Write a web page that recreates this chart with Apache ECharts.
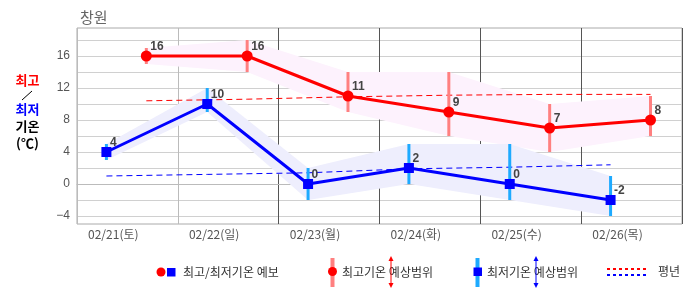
<!DOCTYPE html>
<html>
<head>
<meta charset="utf-8">
<script src="https://cdn.jsdelivr.net/npm/echarts@6/dist/echarts.min.js"></script>
<style>html,body{margin:0;padding:0;background:#fff;}#c{width:686px;height:295px;}</style>
</head>
<body>
<div id="c"></div>
<script>
// ---- data ----
var dayLabels = ['02/21(토)', '02/22(일)', '02/23(월)', '02/24(화)', '02/25(수)', '02/26(목)'];
var minHour = 7;      // time of day of the minimum (hours)
var maxHour = 16.5;   // time of day of the maximum (hours)
var maxTemp = [16, 16, 11, 9, 7, 8];
var maxLow  = [15, 14, 9, 6, 4, 6];
var maxHigh = [17, 18, 14, 14, 10, 11];
var minTemp = [4, 10, 0, 2, 0, -2];
var minLow  = [3, 9, -2, 0, -2, -4];
var minHigh = [5, 12, 2, 5, 5, 1];
var normMax = [10.4, 10.6, 10.9, 11.1, 11.2, 11.2];
var normMin = [1.0, 1.2, 1.4, 1.9, 2.1, 2.4];
var yTickValues = [-4, -2, 0, 2, 4, 6, 8, 10, 12, 14, 16, 18];
var yLabelValues = [-4, 0, 4, 8, 12, 16];

// ---- build ----
function xs(h) { return dayLabels.map(function (_, i) { return i + h / 24; }); }
var xMin = xs(minHour), xMax = xs(maxHour);
function pairs(x, v) { return v.map(function (y, i) { return [x[i], y]; }); }

function bandSeries(xArr, low, high, color) {
  return {
    type: 'custom', silent: true, z: 1,
    data: low.map(function (v, i) { return [xArr[i], v, high[i]]; }),
    renderItem: function (params, api) {
      if (params.dataIndex !== 0) return null;
      var pts = [];
      for (var i = 0; i < xArr.length; i++) pts.push(api.coord([xArr[i], high[i]]));
      for (var j = xArr.length - 1; j >= 0; j--) pts.push(api.coord([xArr[j], low[j]]));
      return { type: 'polygon', shape: { points: pts }, style: { fill: color } };
    }
  };
}

function errSeries(xArr, low, high, color) {
  return {
    type: 'custom', silent: true, z: 4,
    data: low.map(function (v, i) { return [xArr[i], v, high[i]]; }),
    renderItem: function (params, api) {
      var p1 = api.coord([api.value(0), api.value(1)]);
      var p2 = api.coord([api.value(0), api.value(2)]);
      return { type: 'rect', shape: { x: p1[0] - 1.5, y: p2[1], width: 3, height: p1[1] - p2[1] },
               style: { fill: color } };
    }
  };
}

var labelCfg = { show: true, position: 'right', distance: 0, offset: [-1.5, -9],
  fontSize: 12, fontWeight: 'bold', color: '#444', fontFamily: 'Liberation Sans, Arial, sans-serif' };

var series = [
    bandSeries(xMax, maxLow, maxHigh, '#fdf2fd'),
    bandSeries(xMin, minLow, minHigh, '#eeeefd'),
    { type: 'line', data: pairs(xMax, normMax), symbol: 'none', z: 3, silent: true,
      lineStyle: { color: '#ff0000', width: 1, type: [6, 4] } },
    { type: 'line', data: pairs(xMin, normMin), symbol: 'none', z: 3, silent: true,
      lineStyle: { color: '#0000ff', width: 1, type: [6, 4] } },
    errSeries(xMax, maxLow, maxHigh, '#ff8080'),
    errSeries(xMin, minLow, minHigh, '#1eaaff'),
    { type: 'line', data: pairs(xMax, maxTemp), symbol: 'circle', symbolSize: 11, z: 6,
      lineStyle: { color: '#ff0000', width: 3 }, itemStyle: { color: '#ff0000' }, label: labelCfg },
    { type: 'line', data: pairs(xMin, minTemp), symbol: 'rect', symbolSize: 10, z: 6,
      lineStyle: { color: '#0000ff', width: 3 }, itemStyle: { color: '#0000ff' }, label: labelCfg }
];

var txt = { fontFamily: 'Noto Sans CJK KR, sans-serif', fontSize: 12, fill: '#333' };
function T(x, y, s, extra) {
  var st = Object.assign({}, txt, { text: s, x: x, y: y, textVerticalAlign: 'middle' }, extra || {});
  return { type: 'text', style: st, z: 10 };
}
function arrow(x, y1, y2, color) {
  return [
    { type: 'line', shape: { x1: x, y1: y1 + 3, x2: x, y2: y2 - 3 }, style: { stroke: color, lineWidth: 1 }, z: 10 },
    { type: 'polygon', shape: { points: [[x - 2.5, y1 + 5], [x + 2.5, y1 + 5], [x, y1]] }, style: { fill: color }, z: 10 },
    { type: 'polygon', shape: { points: [[x - 2.5, y2 - 5], [x + 2.5, y2 - 5], [x, y2]] }, style: { fill: color }, z: 10 }
  ];
}
var axisName = { fontFamily: 'Noto Sans CJK KR, sans-serif', fontSize: 13, fontWeight: 'bold', textAlign: 'center', textVerticalAlign: 'middle' };

var graphic = [
  T(27.5, 80.5, '최고', Object.assign({}, axisName, { fill: '#ff0000' })),
  { type: 'line', shape: { x1: 22, y1: 100, x2: 32, y2: 91 }, style: { stroke: '#000', lineWidth: 1 }, z: 10 },
  T(27.5, 109, '최저', Object.assign({}, axisName, { fill: '#0000ff' })),
  T(27.5, 126, '기온', Object.assign({}, axisName, { fill: '#000' })),
  T(27.5, 143, '(℃)', Object.assign({}, axisName, { fill: '#000' })),
  // legend
  { type: 'circle', shape: { cx: 161, cy: 272, r: 4.5 }, style: { fill: '#ff0000' }, z: 10 },
  { type: 'rect', shape: { x: 167, y: 268, width: 8.5, height: 8.5 }, style: { fill: '#0000ff' }, z: 10 },
  T(183, 272, '최고/최저기온 예보'),
  { type: 'rect', shape: { x: 330.5, y: 258, width: 4, height: 29 }, style: { fill: '#ff8080' }, z: 10 },
  { type: 'circle', shape: { cx: 332.5, cy: 271.5, r: 4.5 }, style: { fill: '#ff0000' }, z: 11 },
  T(342, 272, '최고기온 예상범위'),
  { type: 'rect', shape: { x: 475.5, y: 258, width: 4, height: 29 }, style: { fill: '#1eaaff' }, z: 10 },
  { type: 'rect', shape: { x: 473.5, y: 267.5, width: 8.5, height: 8.5 }, style: { fill: '#0000ff' }, z: 11 },
  T(487, 272, '최저기온 예상범위'),
  { type: 'line', shape: { x1: 607, y1: 269, x2: 648, y2: 269 }, style: { stroke: '#ff0000', lineWidth: 2, lineDash: [3, 3] }, z: 10 },
  { type: 'line', shape: { x1: 607, y1: 275, x2: 648, y2: 275 }, style: { stroke: '#0000ff', lineWidth: 2, lineDash: [3, 3] }, z: 10 },
  T(658, 271, '평년')
].concat(arrow(391, 256, 288, '#ff0000')).concat(arrow(536, 256, 288, '#0000ff'));

var chart = echarts.init(document.getElementById('c'), null, { renderer: 'canvas' });
chart.setOption({
  animation: false,
  backgroundColor: '#fff',
  title: { text: '창원', left: 75, top: 5,
    textStyle: { fontSize: 15, fontWeight: 'normal', color: '#666', fontFamily: 'Noto Sans CJK KR, sans-serif' } },
  grid: { left: 77, right: 4, top: 28, bottom: 71, show: true, borderColor: '#aaa', borderWidth: 1 },
  xAxis: {
    type: 'value', min: 0, max: 6, interval: 1,
    axisLine: { show: true, lineStyle: { color: '#bbb' } },
    axisTick: { show: false },
    splitLine: { show: true, lineStyle: { color: ['#bbb', '#bbb', '#555', '#555', '#555', '#555', '#555'], width: 1 } },
    axisLabel: {
      customValues: dayLabels.map(function (_, i) { return i + 0.36; }),
      formatter: function (v) { return dayLabels[Math.floor(v)]; },
      color: '#555', fontSize: 12, margin: 4, fontFamily: 'Noto Sans CJK KR, sans-serif'
    }
  },
  yAxis: {
    type: 'value', min: -5, max: 19.5,
    axisLine: { show: false },
    axisTick: { show: false, customValues: yTickValues },
    splitLine: { show: true, lineStyle: { color: '#d0d0d0', width: 1 } },
    axisLabel: {
      customValues: yLabelValues,
      formatter: function (v) { return String(v).replace('-', '\u2212'); },
      color: '#555', fontSize: 12, margin: 7, fontFamily: 'Liberation Sans, Arial, sans-serif'
    }
  },
  series: series,
  graphic: graphic
});
</script>
</body>
</html>
